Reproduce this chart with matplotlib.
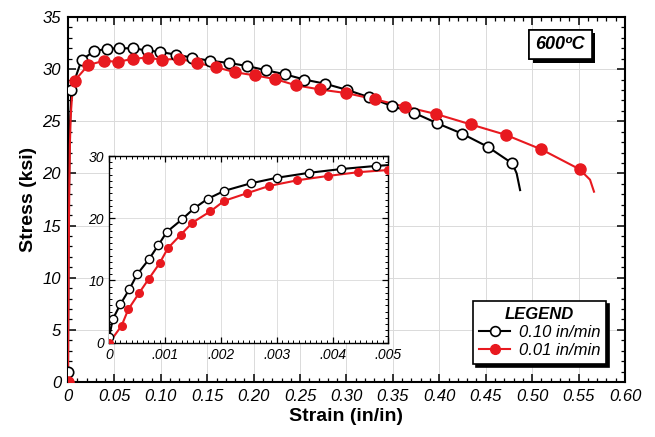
import numpy as np
import matplotlib
matplotlib.use("Agg")
import matplotlib.pyplot as plt
from matplotlib.ticker import MultipleLocator, FixedLocator, FixedFormatter
import matplotlib.patheffects as pe

plt.rcParams['font.family'] = ['Liberation Sans', 'DejaVu Sans']

# ---- data ----
# main plot markers (strain in/in, stress ksi)
fast_strain = [0.0, 0.0035, 0.0147, 0.028, 0.0417, 0.055, 0.0697, 0.0848, 0.0995, 0.116,
               0.134, 0.153, 0.173, 0.193, 0.213, 0.234, 0.2546, 0.277, 0.301, 0.3246,
               0.3487, 0.373, 0.398, 0.4248, 0.452, 0.4786]
fast_stress = [1.0, 28.0, 30.9, 31.7, 31.96, 32.0, 32.0, 31.8, 31.64, 31.4,
               31.1, 30.8, 30.6, 30.3, 29.9, 29.5, 29.0, 28.6, 28.0, 27.3,
               26.46, 25.8, 24.8, 23.8, 22.56, 20.96]
fast_tail_strain = [0.4833, 0.487]
fast_tail_stress = [20.0, 18.4]

slow_strain = [0.0, 0.0072, 0.0219, 0.0388, 0.054, 0.0703, 0.0858, 0.101, 0.120, 0.139,
               0.159, 0.180, 0.2014, 0.223, 0.2456, 0.2715, 0.300, 0.331, 0.363, 0.3964,
               0.4338, 0.4715, 0.510, 0.551]
slow_stress = [0.0, 28.9, 30.4, 30.8, 30.7, 31.0, 31.1, 30.9, 31.0, 30.6,
               30.2, 29.7, 29.4, 29.05, 28.45, 28.05, 27.7, 27.1, 26.4, 25.7,
               24.7, 23.7, 22.3, 20.4]
slow_tail_strain = [0.5623, 0.5666]
slow_tail_stress = [19.4, 18.25]

# inset (elastic region)
fast_in_strain = [0, 0.00006, 0.0002, 0.00036, 0.0005, 0.00071, 0.00088, 0.00103, 0.0013,
                  0.00152, 0.00176, 0.00206, 0.00253, 0.003, 0.00358, 0.00415, 0.00477, 0.0051]
fast_in_stress = [0.96, 3.75, 6.2, 8.6, 11.0, 13.4, 15.7, 17.8, 19.8,
                  21.6, 23.1, 24.4, 25.6, 26.5, 27.3, 27.9, 28.4, 28.6]
slow_in_strain = [0, 0.00022, 0.00034, 0.00053, 0.00071, 0.0009, 0.00105, 0.00128, 0.00149,
                  0.00181, 0.00206, 0.00246, 0.00287, 0.00337, 0.00392, 0.00446, 0.005]
slow_in_stress = [0, 2.73, 5.36, 7.93, 10.3, 12.75, 15.2, 17.35, 19.3,
                  21.1, 22.8, 24.0, 25.2, 26.1, 26.8, 27.4, 27.75]

main_xticks = [0, 0.05, 0.10, 0.15, 0.20, 0.25, 0.30, 0.35, 0.40, 0.45, 0.50, 0.55, 0.60]
main_xlabels = ["0", "0.05", "0.10", "0.15", "0.20", "0.25", "0.30", "0.35", "0.40",
                "0.45", "0.50", "0.55", "0.60"]
inset_xticks = [0, 0.001, 0.002, 0.003, 0.004, 0.005]
inset_xlabels = ["0", ".001", ".002", ".003", ".004", ".005"]

RED = "#e8191f"

fig = plt.figure(figsize=(6.55, 4.37), dpi=100)
ax = fig.add_axes([0.1038, 0.1259, 0.8504, 0.8352])

# build main lines: elastic part from inset data, then plateau markers and tail
fa_s = np.array(fast_in_strain)
fa_y = np.array(fast_in_stress)
m = fa_s < fast_strain[1]
fast_line_x = np.concatenate([fa_s[m], fast_strain[1:], fast_tail_strain])
fast_line_y = np.concatenate([fa_y[m], fast_stress[1:], fast_tail_stress])
sl_s = np.array(slow_in_strain)
sl_y = np.array(slow_in_stress)
m = sl_s < slow_strain[1]
slow_line_x = np.concatenate([sl_s[m], slow_strain[1:], slow_tail_strain])
slow_line_y = np.concatenate([sl_y[m], slow_stress[1:], slow_tail_stress])

ax.plot(fast_line_x, fast_line_y, color="black", lw=1.5, zorder=3)
ax.plot(fast_strain, fast_stress, "o", ms=7.5, mfc="white", mec="black", mew=1.2, zorder=4)
ax.plot(slow_line_x, slow_line_y, color=RED, lw=1.5, zorder=3)
ax.plot(slow_strain, slow_stress, "o", ms=8, mfc=RED, mec=RED, zorder=4)

ax.set_xlim(0, 0.60)
ax.set_ylim(0, 35)
ax.xaxis.set_major_locator(FixedLocator(main_xticks))
ax.xaxis.set_major_formatter(FixedFormatter(main_xlabels))
ax.xaxis.set_minor_locator(MultipleLocator(0.01))
ax.yaxis.set_major_locator(MultipleLocator(5))
ax.yaxis.set_minor_locator(MultipleLocator(1))
ax.tick_params(which="both", direction="in", top=True, right=True)
ax.tick_params(which="major", length=6, width=1.1, labelsize=12, pad=5)
ax.tick_params(which="minor", length=3, width=0.9)
for lab in ax.get_xticklabels() + ax.get_yticklabels():
    lab.set_fontstyle("italic")
ax.grid(True, which="major", color="#dadada", lw=0.7)
ax.set_axisbelow(True)
for sp in ax.spines.values():
    sp.set_linewidth(1.5)
ax.set_xlabel("Strain (in/in)", fontsize=14, fontweight="bold", labelpad=3)
ax.set_ylabel("Stress (ksi)", fontsize=14, fontweight="bold", labelpad=4)

# temperature tag with hard shadow
t = ax.text(0.884, 0.925, "600ºC", transform=ax.transAxes, ha="center", va="center",
            fontsize=13, fontweight="bold", fontstyle="italic", zorder=6,
            bbox=dict(boxstyle="square,pad=0.35", fc="white", ec="black", lw=1.2))
t.get_bbox_patch().set_path_effects([
    pe.withSimplePatchShadow(offset=(2.5, -2.5), shadow_rgbFace="black", alpha=1.0),
    pe.Normal()])

# legend
h1, = ax.plot([], [], "-o", color="black", lw=1.5, ms=7, mfc="white", mec="black", mew=1.2)
h2, = ax.plot([], [], "-o", color=RED, lw=1.5, ms=7, mfc=RED, mec=RED)
leg = ax.legend([h1, h2], ["0.10 in/min", "0.01 in/min"], loc="lower right",
                bbox_to_anchor=(0.966, 0.049), borderaxespad=0, fancybox=False,
                framealpha=1, edgecolor="black", handlelength=1.9, handletextpad=0.5,
                borderpad=0.35, labelspacing=0.2, prop=dict(size=12, style="italic"),
                title="LEGEND", title_fontproperties=dict(size=12, weight="bold", style="italic"),
                shadow=dict(color="black", alpha=1.0))
leg.get_frame().set_linewidth(1.2)
leg.set_zorder(7)

# inset
ins = fig.add_axes([0.1669, 0.2158, 0.426, 0.4272])
ins.set_zorder(5)
ins.plot(fast_in_strain, fast_in_stress, color="black", lw=1.5, zorder=3)
ins.plot(fast_in_strain[:-1], fast_in_stress[:-1], "o", ms=6, mfc="white", mec="black",
         mew=1.0, zorder=4)
ins.plot(slow_in_strain, slow_in_stress, color=RED, lw=1.5, zorder=3)
ins.plot(slow_in_strain, slow_in_stress, "o", ms=5.5, mfc=RED, mec=RED, zorder=4)
ins.set_xlim(0, 0.005)
ins.set_ylim(0, 30)
ins.xaxis.set_major_locator(FixedLocator(inset_xticks))
ins.xaxis.set_major_formatter(FixedFormatter(inset_xlabels))
ins.xaxis.set_minor_locator(MultipleLocator(0.0001))
ins.yaxis.set_major_locator(MultipleLocator(10))
ins.yaxis.set_minor_locator(MultipleLocator(1))
ins.tick_params(which="both", direction="in", top=True, right=True)
ins.tick_params(which="major", length=4, width=0.9, labelsize=10, pad=4)
ins.tick_params(which="minor", length=2, width=0.7)
for lab in ins.get_xticklabels() + ins.get_yticklabels():
    lab.set_fontstyle("italic")
ins.grid(True, which="major", color="#dedede", lw=0.7)
ins.set_axisbelow(True)
for sp in ins.spines.values():
    sp.set_linewidth(1.0)

fig.savefig("out.png", dpi=100)
